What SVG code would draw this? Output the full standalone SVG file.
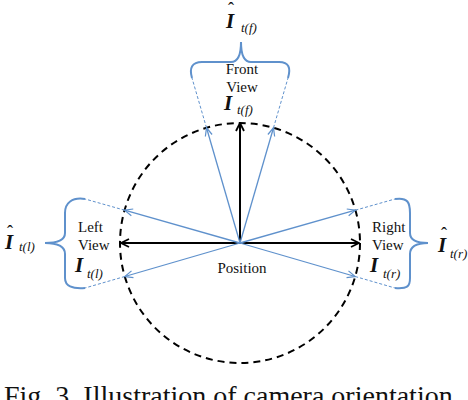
<svg xmlns="http://www.w3.org/2000/svg" width="468" height="400" viewBox="0 0 468 400">
<style>
.t{font-family:"Liberation Serif","Times New Roman",serif;fill:#111}
.lbl{font-size:15px}
.bi{font-size:21px;font-weight:bold;font-style:italic}
.sub{font-size:13px;font-style:italic}
.hat{font-size:18px}
.blue{stroke:#5f91cc;fill:none}
.sol{stroke-width:1.3}
.dsh{stroke-width:1;stroke-dasharray:3 2}
.brace{stroke-width:2}
.blk{stroke:#000;stroke-width:2;fill:none}
</style>
<defs>
<marker id="ab" markerWidth="10" markerHeight="10" refX="9" refY="5" orient="auto" markerUnits="userSpaceOnUse">
<path d="M1,1.5 L9,5 L1,8.5" fill="none" stroke="#5f91cc" stroke-width="1.2"/>
</marker>
<marker id="ak" markerWidth="10" markerHeight="10" refX="9" refY="5" orient="auto" markerUnits="userSpaceOnUse">
<path d="M1,1 L9,5 L1,9" fill="none" stroke="#000" stroke-width="1.8"/>
</marker>
</defs>
<g id="circle">
<circle cx="240" cy="243" r="120" fill="none" stroke="#000" stroke-width="2" stroke-dasharray="7 5"/>
</g>
<g id="connectors">
<line class="blk" x1="240" y1="243" x2="240" y2="123" marker-end="url(#ak)"/>
<line class="blk" x1="240" y1="243" x2="121" y2="243" marker-end="url(#ak)"/>
<line class="blk" x1="240" y1="243" x2="359" y2="243" marker-end="url(#ak)"/>
<line class="blue sol" x1="240" y1="243" x2="206.5" y2="127.8" marker-end="url(#ab)"/>
<line class="blue sol" x1="240" y1="243" x2="273.5" y2="127.8" marker-end="url(#ab)"/>
<line class="blue sol" x1="240" y1="243" x2="124.6" y2="210.2" marker-end="url(#ab)"/>
<line class="blue sol" x1="240" y1="243" x2="124.8" y2="276.5" marker-end="url(#ab)"/>
<line class="blue sol" x1="240" y1="243" x2="355.4" y2="210.2" marker-end="url(#ab)"/>
<line class="blue sol" x1="240" y1="243" x2="355.2" y2="276.5" marker-end="url(#ab)"/>
<line class="blue dsh" x1="206.5" y1="127.8" x2="192" y2="78"/>
<line class="blue dsh" x1="273.5" y1="127.8" x2="288" y2="78"/>
<line class="blue dsh" x1="124.6" y1="210.2" x2="85" y2="199"/>
<line class="blue dsh" x1="124.8" y1="276.5" x2="85" y2="288"/>
<line class="blue dsh" x1="355.4" y1="210.2" x2="395" y2="199"/>
<line class="blue dsh" x1="355.2" y1="276.5" x2="395" y2="288"/>
</g>
<g id="front">
<path class="blue brace" d="M192,78 C189,68 192,62 202,62 L231,62 C238,62 241,55 241,42 C241,55 244,62 251,62 L279,62 C289,62 291,68 288,78"/>
<text class="t lbl" x="242" y="74" text-anchor="middle">Front</text>
<text class="t lbl" x="242" y="92" text-anchor="middle">View</text>
<text class="t bi" x="224" y="110">I</text>
<text class="t sub" x="237" y="114">t(f)</text>
<text class="t hat" x="231" y="15" text-anchor="middle">ˆ</text>
<text class="t bi" x="226" y="28">I</text>
<text class="t sub" x="241" y="32">t(f)</text>
</g>
<g id="left">
<path class="blue brace" d="M85,199 C72,197 65,203 65,213 L65,233 C65,239 59,243 45,243 C59,243 65,247 65,254 L65,278 C65,286 72,289 85,288"/>
<text class="t lbl" x="78" y="232">Left</text>
<text class="t lbl" x="78" y="250">View</text>
<text class="t bi" x="75" y="272">I</text>
<text class="t sub" x="87" y="278">t(l)</text>
<text class="t hat" x="10" y="238" text-anchor="middle">ˆ</text>
<text class="t bi" x="5" y="249">I</text>
<text class="t sub" x="19" y="251">t(l)</text>
</g>
<g id="right">
<path class="blue brace" d="M395,199 C408,197 410,203 410,213 L410,233 C410,239 416,243 428,243 C416,243 410,247 410,254 L410,278 C410,286 408,289 395,288"/>
<text class="t lbl" x="372" y="232">Right</text>
<text class="t lbl" x="372" y="250">View</text>
<text class="t bi" x="370" y="272">I</text>
<text class="t sub" x="383" y="278">t(r)</text>
<text class="t hat" x="444" y="240" text-anchor="middle">ˆ</text>
<text class="t bi" x="438" y="252">I</text>
<text class="t sub" x="450" y="258">t(r)</text>
</g>
<g id="position">
<text class="t lbl" x="242" y="273" text-anchor="middle">Position</text>
</g>
<g id="caption">
<text class="t" x="4" y="405" font-size="28">Fig. 3. Illustration of camera orientation</text>
</g>
</svg>
